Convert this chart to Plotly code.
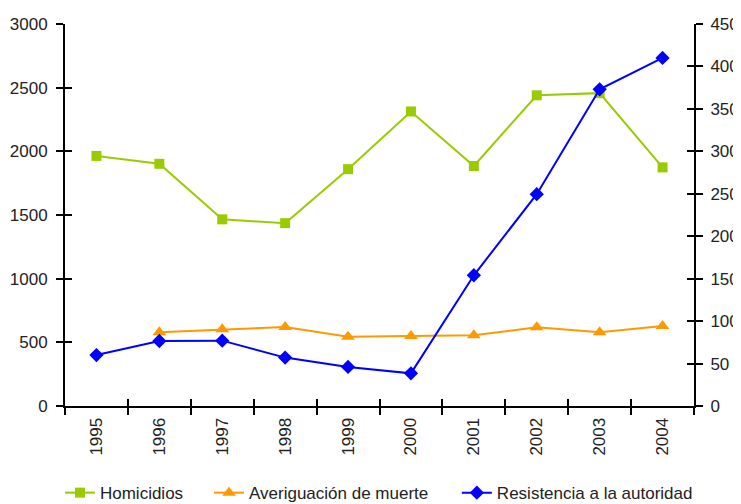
import plotly.graph_objects as go

# data
years = ['1995', '1996', '1997', '1998', '1999', '2000', '2001', '2002', '2003', '2004']
homicidios = [1964, 1902, 1466, 1436, 1860, 2313, 1885, 2440, 2457, 1874]
averiguacion = [None, 86.8, 90.3, 93.0, 81.6, 82.5, 83.3, 92.7, 86.8, 94.2]
resistencia = [60, 76.6, 77, 57, 46, 38.5, 154, 249.5, 373, 410]

FONT = 'Liberation Sans Narrow, Arial Narrow, Liberation Sans, Arial, sans-serif'

fig = go.Figure()

fig.add_trace(go.Scatter(
    x=years, y=homicidios, name='Homicidios', mode='lines+markers',
    line=dict(color='#99CC00', width=2),
    marker=dict(symbol='square', size=10, color='#99CC00'),
    legend='legend',
))
fig.add_trace(go.Scatter(
    x=years, y=averiguacion, name='Averiguación de muerte', mode='lines+markers',
    yaxis='y2', line=dict(color='#FF9900', width=2),
    marker=dict(symbol='triangle-up', size=12, color='#FF9900'),
    legend='legend2',
))
fig.add_trace(go.Scatter(
    x=years, y=resistencia, name='Resistencia a la autoridad', mode='lines+markers',
    yaxis='y2', line=dict(color='#0000FF', width=2),
    marker=dict(symbol='diamond', size=11, color='#0000FF'),
    legend='legend3',
))

# empty traces so the overlay axes (inner half of the crossing ticks) get drawn
for ya in ['y3', 'y4']:
    fig.add_trace(go.Scatter(x=[None], y=[None], xaxis='x2', yaxis=ya, mode='lines',
                             showlegend=False, hoverinfo='skip'))

axis_style = dict(showgrid=False, zeroline=False, showline=True, linecolor='black',
                  linewidth=2, ticks='outside', ticklen=7, tickwidth=2, tickcolor='black',
                  automargin=False)
inner_ticks = dict(showgrid=False, zeroline=False, showline=False, ticks='inside',
                   ticklen=7, tickwidth=2, tickcolor='black', showticklabels=False,
                   automargin=False)


def legend_at(x):
    return dict(orientation='h', x=x, xanchor='left', y=-0.228, yanchor='middle',
                font=dict(size=17, color='#222222'), bgcolor='rgba(0,0,0,0)')


# the page body adds an 8px margin, so the figure is 8px smaller than the window
fig.update_layout(
    width=733, height=496,
    margin=dict(l=57, r=47, t=16, b=98, autoexpand=False),
    paper_bgcolor='white', plot_bgcolor='white',
    font=dict(family=FONT, size=17, color='#222222'),
    showlegend=True,
    legend=legend_at(-0.008),
    legend2=legend_at(0.229),
    legend3=legend_at(0.623),
    xaxis=dict(type='category', tickson='boundaries', tickangle=-90,
               range=[-0.5, 9.5], ticklabelstandoff=3, **axis_style),
    yaxis=dict(range=[0, 3000], dtick=500, ticklabelstandoff=5, **axis_style),
    yaxis2=dict(range=[0, 450], dtick=50, overlaying='y', side='right',
                ticklabelstandoff=4, **axis_style),
    xaxis2=dict(overlaying='x', range=[-0.5, 9.5], tickvals=[i - 0.5 for i in range(11)],
                **inner_ticks),
    yaxis3=dict(overlaying='y', range=[0, 3000], dtick=500, **inner_ticks),
    yaxis4=dict(overlaying='y', side='right', range=[0, 450], dtick=50, **inner_ticks),
)

fig.write_html("out.html")
